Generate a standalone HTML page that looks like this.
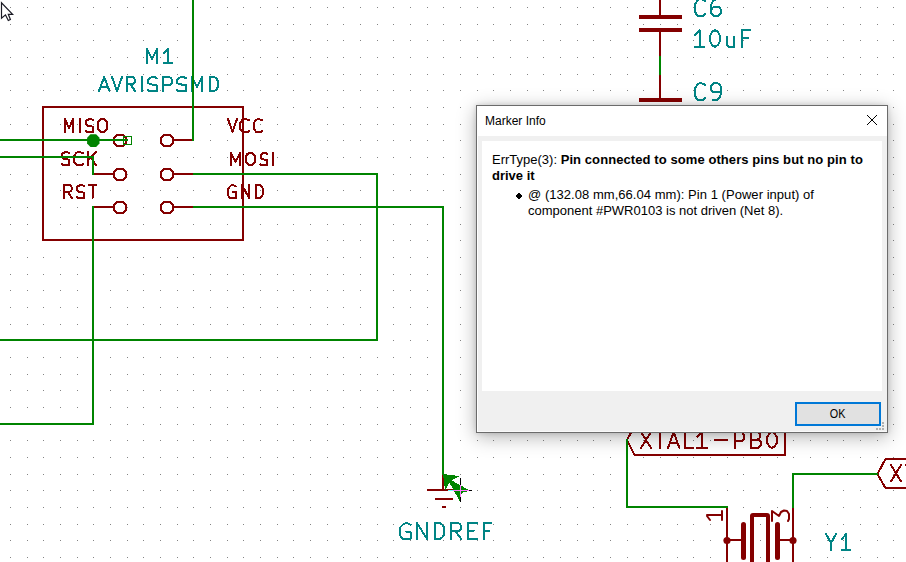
<!DOCTYPE html>
<html><head><meta charset="utf-8"><style>
*{margin:0;padding:0;box-sizing:border-box}
html,body{width:906px;height:562px;overflow:hidden;background:#fff}
body{position:relative;font-family:"Liberation Sans",sans-serif}
#shadow{position:absolute;left:476px;top:105px;width:412px;height:328px;box-shadow:0 0 5px rgba(0,0,0,0.14),0 4px 18px rgba(0,0,0,0.30)}
#dlg{position:absolute;left:476px;top:105px;width:412px;height:328px;border:1px solid #6b6b6b;background:#f0f0f0}
#title{position:absolute;left:477px;top:106px;width:410px;height:30px;background:#fff}
#ttext{position:absolute;left:485px;top:106px;height:30px;line-height:30px;font-size:12px;color:#000;white-space:nowrap}
#close{position:absolute;left:866px;top:114px}
#body{position:absolute;left:477px;top:136px;width:410px;height:296px;border-left:1px solid #fff;border-bottom:1px solid #f9f9f9;background:#f0f0f0}
#panel{position:absolute;left:482px;top:141px;width:400px;height:250px;background:#fff}
.t{position:absolute;font-size:13px;line-height:16px;color:#000;white-space:nowrap}
#ok{position:absolute;left:795px;top:402px;width:86px;height:24px;border:2px solid #0078d7;background:#e1e1e1;font-size:12px;text-align:center;line-height:20px;color:#000}
</style></head>
<body><svg width="906" height="562" viewBox="0 0 906 562" style="position:absolute;left:0;top:0"><path fill="#848484" d="M10 7h1v1h-1zM27 7h1v1h-1zM43 7h1v1h-1zM60 7h1v1h-1zM77 7h1v1h-1zM93 7h1v1h-1zM110 7h1v1h-1zM127 7h1v1h-1zM143 7h1v1h-1zM160 7h1v1h-1zM177 7h1v1h-1zM193 7h1v1h-1zM210 7h1v1h-1zM227 7h1v1h-1zM243 7h1v1h-1zM260 7h1v1h-1zM277 7h1v1h-1zM293 7h1v1h-1zM310 7h1v1h-1zM327 7h1v1h-1zM343 7h1v1h-1zM360 7h1v1h-1zM377 7h1v1h-1zM393 7h1v1h-1zM410 7h1v1h-1zM427 7h1v1h-1zM443 7h1v1h-1zM460 7h1v1h-1zM477 7h1v1h-1zM493 7h1v1h-1zM510 7h1v1h-1zM527 7h1v1h-1zM543 7h1v1h-1zM560 7h1v1h-1zM577 7h1v1h-1zM593 7h1v1h-1zM610 7h1v1h-1zM627 7h1v1h-1zM643 7h1v1h-1zM660 7h1v1h-1zM677 7h1v1h-1zM693 7h1v1h-1zM710 7h1v1h-1zM727 7h1v1h-1zM743 7h1v1h-1zM760 7h1v1h-1zM777 7h1v1h-1zM793 7h1v1h-1zM810 7h1v1h-1zM827 7h1v1h-1zM843 7h1v1h-1zM860 7h1v1h-1zM877 7h1v1h-1zM893 7h1v1h-1zM10 24h1v1h-1zM27 24h1v1h-1zM43 24h1v1h-1zM60 24h1v1h-1zM77 24h1v1h-1zM93 24h1v1h-1zM110 24h1v1h-1zM127 24h1v1h-1zM143 24h1v1h-1zM160 24h1v1h-1zM177 24h1v1h-1zM193 24h1v1h-1zM210 24h1v1h-1zM227 24h1v1h-1zM243 24h1v1h-1zM260 24h1v1h-1zM277 24h1v1h-1zM293 24h1v1h-1zM310 24h1v1h-1zM327 24h1v1h-1zM343 24h1v1h-1zM360 24h1v1h-1zM377 24h1v1h-1zM393 24h1v1h-1zM410 24h1v1h-1zM427 24h1v1h-1zM443 24h1v1h-1zM460 24h1v1h-1zM477 24h1v1h-1zM493 24h1v1h-1zM510 24h1v1h-1zM527 24h1v1h-1zM543 24h1v1h-1zM560 24h1v1h-1zM577 24h1v1h-1zM593 24h1v1h-1zM610 24h1v1h-1zM627 24h1v1h-1zM643 24h1v1h-1zM660 24h1v1h-1zM677 24h1v1h-1zM693 24h1v1h-1zM710 24h1v1h-1zM727 24h1v1h-1zM743 24h1v1h-1zM760 24h1v1h-1zM777 24h1v1h-1zM793 24h1v1h-1zM810 24h1v1h-1zM827 24h1v1h-1zM843 24h1v1h-1zM860 24h1v1h-1zM877 24h1v1h-1zM893 24h1v1h-1zM10 40h1v1h-1zM27 40h1v1h-1zM43 40h1v1h-1zM60 40h1v1h-1zM77 40h1v1h-1zM93 40h1v1h-1zM110 40h1v1h-1zM127 40h1v1h-1zM143 40h1v1h-1zM160 40h1v1h-1zM177 40h1v1h-1zM193 40h1v1h-1zM210 40h1v1h-1zM227 40h1v1h-1zM243 40h1v1h-1zM260 40h1v1h-1zM277 40h1v1h-1zM293 40h1v1h-1zM310 40h1v1h-1zM327 40h1v1h-1zM343 40h1v1h-1zM360 40h1v1h-1zM377 40h1v1h-1zM393 40h1v1h-1zM410 40h1v1h-1zM427 40h1v1h-1zM443 40h1v1h-1zM460 40h1v1h-1zM477 40h1v1h-1zM493 40h1v1h-1zM510 40h1v1h-1zM527 40h1v1h-1zM543 40h1v1h-1zM560 40h1v1h-1zM577 40h1v1h-1zM593 40h1v1h-1zM610 40h1v1h-1zM627 40h1v1h-1zM643 40h1v1h-1zM660 40h1v1h-1zM677 40h1v1h-1zM693 40h1v1h-1zM710 40h1v1h-1zM727 40h1v1h-1zM743 40h1v1h-1zM760 40h1v1h-1zM777 40h1v1h-1zM793 40h1v1h-1zM810 40h1v1h-1zM827 40h1v1h-1zM843 40h1v1h-1zM860 40h1v1h-1zM877 40h1v1h-1zM893 40h1v1h-1zM10 57h1v1h-1zM27 57h1v1h-1zM43 57h1v1h-1zM60 57h1v1h-1zM77 57h1v1h-1zM93 57h1v1h-1zM110 57h1v1h-1zM127 57h1v1h-1zM143 57h1v1h-1zM160 57h1v1h-1zM177 57h1v1h-1zM193 57h1v1h-1zM210 57h1v1h-1zM227 57h1v1h-1zM243 57h1v1h-1zM260 57h1v1h-1zM277 57h1v1h-1zM293 57h1v1h-1zM310 57h1v1h-1zM327 57h1v1h-1zM343 57h1v1h-1zM360 57h1v1h-1zM377 57h1v1h-1zM393 57h1v1h-1zM410 57h1v1h-1zM427 57h1v1h-1zM443 57h1v1h-1zM460 57h1v1h-1zM477 57h1v1h-1zM493 57h1v1h-1zM510 57h1v1h-1zM527 57h1v1h-1zM543 57h1v1h-1zM560 57h1v1h-1zM577 57h1v1h-1zM593 57h1v1h-1zM610 57h1v1h-1zM627 57h1v1h-1zM643 57h1v1h-1zM660 57h1v1h-1zM677 57h1v1h-1zM693 57h1v1h-1zM710 57h1v1h-1zM727 57h1v1h-1zM743 57h1v1h-1zM760 57h1v1h-1zM777 57h1v1h-1zM793 57h1v1h-1zM810 57h1v1h-1zM827 57h1v1h-1zM843 57h1v1h-1zM860 57h1v1h-1zM877 57h1v1h-1zM893 57h1v1h-1zM10 74h1v1h-1zM27 74h1v1h-1zM43 74h1v1h-1zM60 74h1v1h-1zM77 74h1v1h-1zM93 74h1v1h-1zM110 74h1v1h-1zM127 74h1v1h-1zM143 74h1v1h-1zM160 74h1v1h-1zM177 74h1v1h-1zM193 74h1v1h-1zM210 74h1v1h-1zM227 74h1v1h-1zM243 74h1v1h-1zM260 74h1v1h-1zM277 74h1v1h-1zM293 74h1v1h-1zM310 74h1v1h-1zM327 74h1v1h-1zM343 74h1v1h-1zM360 74h1v1h-1zM377 74h1v1h-1zM393 74h1v1h-1zM410 74h1v1h-1zM427 74h1v1h-1zM443 74h1v1h-1zM460 74h1v1h-1zM477 74h1v1h-1zM493 74h1v1h-1zM510 74h1v1h-1zM527 74h1v1h-1zM543 74h1v1h-1zM560 74h1v1h-1zM577 74h1v1h-1zM593 74h1v1h-1zM610 74h1v1h-1zM627 74h1v1h-1zM643 74h1v1h-1zM660 74h1v1h-1zM677 74h1v1h-1zM693 74h1v1h-1zM710 74h1v1h-1zM727 74h1v1h-1zM743 74h1v1h-1zM760 74h1v1h-1zM777 74h1v1h-1zM793 74h1v1h-1zM810 74h1v1h-1zM827 74h1v1h-1zM843 74h1v1h-1zM860 74h1v1h-1zM877 74h1v1h-1zM893 74h1v1h-1zM10 90h1v1h-1zM27 90h1v1h-1zM43 90h1v1h-1zM60 90h1v1h-1zM77 90h1v1h-1zM93 90h1v1h-1zM110 90h1v1h-1zM127 90h1v1h-1zM143 90h1v1h-1zM160 90h1v1h-1zM177 90h1v1h-1zM193 90h1v1h-1zM210 90h1v1h-1zM227 90h1v1h-1zM243 90h1v1h-1zM260 90h1v1h-1zM277 90h1v1h-1zM293 90h1v1h-1zM310 90h1v1h-1zM327 90h1v1h-1zM343 90h1v1h-1zM360 90h1v1h-1zM377 90h1v1h-1zM393 90h1v1h-1zM410 90h1v1h-1zM427 90h1v1h-1zM443 90h1v1h-1zM460 90h1v1h-1zM477 90h1v1h-1zM493 90h1v1h-1zM510 90h1v1h-1zM527 90h1v1h-1zM543 90h1v1h-1zM560 90h1v1h-1zM577 90h1v1h-1zM593 90h1v1h-1zM610 90h1v1h-1zM627 90h1v1h-1zM643 90h1v1h-1zM660 90h1v1h-1zM677 90h1v1h-1zM693 90h1v1h-1zM710 90h1v1h-1zM727 90h1v1h-1zM743 90h1v1h-1zM760 90h1v1h-1zM777 90h1v1h-1zM793 90h1v1h-1zM810 90h1v1h-1zM827 90h1v1h-1zM843 90h1v1h-1zM860 90h1v1h-1zM877 90h1v1h-1zM893 90h1v1h-1zM10 107h1v1h-1zM27 107h1v1h-1zM43 107h1v1h-1zM60 107h1v1h-1zM77 107h1v1h-1zM93 107h1v1h-1zM110 107h1v1h-1zM127 107h1v1h-1zM143 107h1v1h-1zM160 107h1v1h-1zM177 107h1v1h-1zM193 107h1v1h-1zM210 107h1v1h-1zM227 107h1v1h-1zM243 107h1v1h-1zM260 107h1v1h-1zM277 107h1v1h-1zM293 107h1v1h-1zM310 107h1v1h-1zM327 107h1v1h-1zM343 107h1v1h-1zM360 107h1v1h-1zM377 107h1v1h-1zM393 107h1v1h-1zM410 107h1v1h-1zM427 107h1v1h-1zM443 107h1v1h-1zM460 107h1v1h-1zM477 107h1v1h-1zM493 107h1v1h-1zM510 107h1v1h-1zM527 107h1v1h-1zM543 107h1v1h-1zM560 107h1v1h-1zM577 107h1v1h-1zM593 107h1v1h-1zM610 107h1v1h-1zM627 107h1v1h-1zM643 107h1v1h-1zM660 107h1v1h-1zM677 107h1v1h-1zM693 107h1v1h-1zM710 107h1v1h-1zM727 107h1v1h-1zM743 107h1v1h-1zM760 107h1v1h-1zM777 107h1v1h-1zM793 107h1v1h-1zM810 107h1v1h-1zM827 107h1v1h-1zM843 107h1v1h-1zM860 107h1v1h-1zM877 107h1v1h-1zM893 107h1v1h-1zM10 124h1v1h-1zM27 124h1v1h-1zM43 124h1v1h-1zM60 124h1v1h-1zM77 124h1v1h-1zM93 124h1v1h-1zM110 124h1v1h-1zM127 124h1v1h-1zM143 124h1v1h-1zM160 124h1v1h-1zM177 124h1v1h-1zM193 124h1v1h-1zM210 124h1v1h-1zM227 124h1v1h-1zM243 124h1v1h-1zM260 124h1v1h-1zM277 124h1v1h-1zM293 124h1v1h-1zM310 124h1v1h-1zM327 124h1v1h-1zM343 124h1v1h-1zM360 124h1v1h-1zM377 124h1v1h-1zM393 124h1v1h-1zM410 124h1v1h-1zM427 124h1v1h-1zM443 124h1v1h-1zM460 124h1v1h-1zM477 124h1v1h-1zM493 124h1v1h-1zM510 124h1v1h-1zM527 124h1v1h-1zM543 124h1v1h-1zM560 124h1v1h-1zM577 124h1v1h-1zM593 124h1v1h-1zM610 124h1v1h-1zM627 124h1v1h-1zM643 124h1v1h-1zM660 124h1v1h-1zM677 124h1v1h-1zM693 124h1v1h-1zM710 124h1v1h-1zM727 124h1v1h-1zM743 124h1v1h-1zM760 124h1v1h-1zM777 124h1v1h-1zM793 124h1v1h-1zM810 124h1v1h-1zM827 124h1v1h-1zM843 124h1v1h-1zM860 124h1v1h-1zM877 124h1v1h-1zM893 124h1v1h-1zM10 140h1v1h-1zM27 140h1v1h-1zM43 140h1v1h-1zM60 140h1v1h-1zM77 140h1v1h-1zM93 140h1v1h-1zM110 140h1v1h-1zM127 140h1v1h-1zM143 140h1v1h-1zM160 140h1v1h-1zM177 140h1v1h-1zM193 140h1v1h-1zM210 140h1v1h-1zM227 140h1v1h-1zM243 140h1v1h-1zM260 140h1v1h-1zM277 140h1v1h-1zM293 140h1v1h-1zM310 140h1v1h-1zM327 140h1v1h-1zM343 140h1v1h-1zM360 140h1v1h-1zM377 140h1v1h-1zM393 140h1v1h-1zM410 140h1v1h-1zM427 140h1v1h-1zM443 140h1v1h-1zM460 140h1v1h-1zM477 140h1v1h-1zM493 140h1v1h-1zM510 140h1v1h-1zM527 140h1v1h-1zM543 140h1v1h-1zM560 140h1v1h-1zM577 140h1v1h-1zM593 140h1v1h-1zM610 140h1v1h-1zM627 140h1v1h-1zM643 140h1v1h-1zM660 140h1v1h-1zM677 140h1v1h-1zM693 140h1v1h-1zM710 140h1v1h-1zM727 140h1v1h-1zM743 140h1v1h-1zM760 140h1v1h-1zM777 140h1v1h-1zM793 140h1v1h-1zM810 140h1v1h-1zM827 140h1v1h-1zM843 140h1v1h-1zM860 140h1v1h-1zM877 140h1v1h-1zM893 140h1v1h-1zM10 157h1v1h-1zM27 157h1v1h-1zM43 157h1v1h-1zM60 157h1v1h-1zM77 157h1v1h-1zM93 157h1v1h-1zM110 157h1v1h-1zM127 157h1v1h-1zM143 157h1v1h-1zM160 157h1v1h-1zM177 157h1v1h-1zM193 157h1v1h-1zM210 157h1v1h-1zM227 157h1v1h-1zM243 157h1v1h-1zM260 157h1v1h-1zM277 157h1v1h-1zM293 157h1v1h-1zM310 157h1v1h-1zM327 157h1v1h-1zM343 157h1v1h-1zM360 157h1v1h-1zM377 157h1v1h-1zM393 157h1v1h-1zM410 157h1v1h-1zM427 157h1v1h-1zM443 157h1v1h-1zM460 157h1v1h-1zM477 157h1v1h-1zM493 157h1v1h-1zM510 157h1v1h-1zM527 157h1v1h-1zM543 157h1v1h-1zM560 157h1v1h-1zM577 157h1v1h-1zM593 157h1v1h-1zM610 157h1v1h-1zM627 157h1v1h-1zM643 157h1v1h-1zM660 157h1v1h-1zM677 157h1v1h-1zM693 157h1v1h-1zM710 157h1v1h-1zM727 157h1v1h-1zM743 157h1v1h-1zM760 157h1v1h-1zM777 157h1v1h-1zM793 157h1v1h-1zM810 157h1v1h-1zM827 157h1v1h-1zM843 157h1v1h-1zM860 157h1v1h-1zM877 157h1v1h-1zM893 157h1v1h-1zM10 174h1v1h-1zM27 174h1v1h-1zM43 174h1v1h-1zM60 174h1v1h-1zM77 174h1v1h-1zM93 174h1v1h-1zM110 174h1v1h-1zM127 174h1v1h-1zM143 174h1v1h-1zM160 174h1v1h-1zM177 174h1v1h-1zM193 174h1v1h-1zM210 174h1v1h-1zM227 174h1v1h-1zM243 174h1v1h-1zM260 174h1v1h-1zM277 174h1v1h-1zM293 174h1v1h-1zM310 174h1v1h-1zM327 174h1v1h-1zM343 174h1v1h-1zM360 174h1v1h-1zM377 174h1v1h-1zM393 174h1v1h-1zM410 174h1v1h-1zM427 174h1v1h-1zM443 174h1v1h-1zM460 174h1v1h-1zM477 174h1v1h-1zM493 174h1v1h-1zM510 174h1v1h-1zM527 174h1v1h-1zM543 174h1v1h-1zM560 174h1v1h-1zM577 174h1v1h-1zM593 174h1v1h-1zM610 174h1v1h-1zM627 174h1v1h-1zM643 174h1v1h-1zM660 174h1v1h-1zM677 174h1v1h-1zM693 174h1v1h-1zM710 174h1v1h-1zM727 174h1v1h-1zM743 174h1v1h-1zM760 174h1v1h-1zM777 174h1v1h-1zM793 174h1v1h-1zM810 174h1v1h-1zM827 174h1v1h-1zM843 174h1v1h-1zM860 174h1v1h-1zM877 174h1v1h-1zM893 174h1v1h-1zM10 190h1v1h-1zM27 190h1v1h-1zM43 190h1v1h-1zM60 190h1v1h-1zM77 190h1v1h-1zM93 190h1v1h-1zM110 190h1v1h-1zM127 190h1v1h-1zM143 190h1v1h-1zM160 190h1v1h-1zM177 190h1v1h-1zM193 190h1v1h-1zM210 190h1v1h-1zM227 190h1v1h-1zM243 190h1v1h-1zM260 190h1v1h-1zM277 190h1v1h-1zM293 190h1v1h-1zM310 190h1v1h-1zM327 190h1v1h-1zM343 190h1v1h-1zM360 190h1v1h-1zM377 190h1v1h-1zM393 190h1v1h-1zM410 190h1v1h-1zM427 190h1v1h-1zM443 190h1v1h-1zM460 190h1v1h-1zM477 190h1v1h-1zM493 190h1v1h-1zM510 190h1v1h-1zM527 190h1v1h-1zM543 190h1v1h-1zM560 190h1v1h-1zM577 190h1v1h-1zM593 190h1v1h-1zM610 190h1v1h-1zM627 190h1v1h-1zM643 190h1v1h-1zM660 190h1v1h-1zM677 190h1v1h-1zM693 190h1v1h-1zM710 190h1v1h-1zM727 190h1v1h-1zM743 190h1v1h-1zM760 190h1v1h-1zM777 190h1v1h-1zM793 190h1v1h-1zM810 190h1v1h-1zM827 190h1v1h-1zM843 190h1v1h-1zM860 190h1v1h-1zM877 190h1v1h-1zM893 190h1v1h-1zM10 207h1v1h-1zM27 207h1v1h-1zM43 207h1v1h-1zM60 207h1v1h-1zM77 207h1v1h-1zM93 207h1v1h-1zM110 207h1v1h-1zM127 207h1v1h-1zM143 207h1v1h-1zM160 207h1v1h-1zM177 207h1v1h-1zM193 207h1v1h-1zM210 207h1v1h-1zM227 207h1v1h-1zM243 207h1v1h-1zM260 207h1v1h-1zM277 207h1v1h-1zM293 207h1v1h-1zM310 207h1v1h-1zM327 207h1v1h-1zM343 207h1v1h-1zM360 207h1v1h-1zM377 207h1v1h-1zM393 207h1v1h-1zM410 207h1v1h-1zM427 207h1v1h-1zM443 207h1v1h-1zM460 207h1v1h-1zM477 207h1v1h-1zM493 207h1v1h-1zM510 207h1v1h-1zM527 207h1v1h-1zM543 207h1v1h-1zM560 207h1v1h-1zM577 207h1v1h-1zM593 207h1v1h-1zM610 207h1v1h-1zM627 207h1v1h-1zM643 207h1v1h-1zM660 207h1v1h-1zM677 207h1v1h-1zM693 207h1v1h-1zM710 207h1v1h-1zM727 207h1v1h-1zM743 207h1v1h-1zM760 207h1v1h-1zM777 207h1v1h-1zM793 207h1v1h-1zM810 207h1v1h-1zM827 207h1v1h-1zM843 207h1v1h-1zM860 207h1v1h-1zM877 207h1v1h-1zM893 207h1v1h-1zM10 224h1v1h-1zM27 224h1v1h-1zM43 224h1v1h-1zM60 224h1v1h-1zM77 224h1v1h-1zM93 224h1v1h-1zM110 224h1v1h-1zM127 224h1v1h-1zM143 224h1v1h-1zM160 224h1v1h-1zM177 224h1v1h-1zM193 224h1v1h-1zM210 224h1v1h-1zM227 224h1v1h-1zM243 224h1v1h-1zM260 224h1v1h-1zM277 224h1v1h-1zM293 224h1v1h-1zM310 224h1v1h-1zM327 224h1v1h-1zM343 224h1v1h-1zM360 224h1v1h-1zM377 224h1v1h-1zM393 224h1v1h-1zM410 224h1v1h-1zM427 224h1v1h-1zM443 224h1v1h-1zM460 224h1v1h-1zM477 224h1v1h-1zM493 224h1v1h-1zM510 224h1v1h-1zM527 224h1v1h-1zM543 224h1v1h-1zM560 224h1v1h-1zM577 224h1v1h-1zM593 224h1v1h-1zM610 224h1v1h-1zM627 224h1v1h-1zM643 224h1v1h-1zM660 224h1v1h-1zM677 224h1v1h-1zM693 224h1v1h-1zM710 224h1v1h-1zM727 224h1v1h-1zM743 224h1v1h-1zM760 224h1v1h-1zM777 224h1v1h-1zM793 224h1v1h-1zM810 224h1v1h-1zM827 224h1v1h-1zM843 224h1v1h-1zM860 224h1v1h-1zM877 224h1v1h-1zM893 224h1v1h-1zM10 240h1v1h-1zM27 240h1v1h-1zM43 240h1v1h-1zM60 240h1v1h-1zM77 240h1v1h-1zM93 240h1v1h-1zM110 240h1v1h-1zM127 240h1v1h-1zM143 240h1v1h-1zM160 240h1v1h-1zM177 240h1v1h-1zM193 240h1v1h-1zM210 240h1v1h-1zM227 240h1v1h-1zM243 240h1v1h-1zM260 240h1v1h-1zM277 240h1v1h-1zM293 240h1v1h-1zM310 240h1v1h-1zM327 240h1v1h-1zM343 240h1v1h-1zM360 240h1v1h-1zM377 240h1v1h-1zM393 240h1v1h-1zM410 240h1v1h-1zM427 240h1v1h-1zM443 240h1v1h-1zM460 240h1v1h-1zM477 240h1v1h-1zM493 240h1v1h-1zM510 240h1v1h-1zM527 240h1v1h-1zM543 240h1v1h-1zM560 240h1v1h-1zM577 240h1v1h-1zM593 240h1v1h-1zM610 240h1v1h-1zM627 240h1v1h-1zM643 240h1v1h-1zM660 240h1v1h-1zM677 240h1v1h-1zM693 240h1v1h-1zM710 240h1v1h-1zM727 240h1v1h-1zM743 240h1v1h-1zM760 240h1v1h-1zM777 240h1v1h-1zM793 240h1v1h-1zM810 240h1v1h-1zM827 240h1v1h-1zM843 240h1v1h-1zM860 240h1v1h-1zM877 240h1v1h-1zM893 240h1v1h-1zM10 257h1v1h-1zM27 257h1v1h-1zM43 257h1v1h-1zM60 257h1v1h-1zM77 257h1v1h-1zM93 257h1v1h-1zM110 257h1v1h-1zM127 257h1v1h-1zM143 257h1v1h-1zM160 257h1v1h-1zM177 257h1v1h-1zM193 257h1v1h-1zM210 257h1v1h-1zM227 257h1v1h-1zM243 257h1v1h-1zM260 257h1v1h-1zM277 257h1v1h-1zM293 257h1v1h-1zM310 257h1v1h-1zM327 257h1v1h-1zM343 257h1v1h-1zM360 257h1v1h-1zM377 257h1v1h-1zM393 257h1v1h-1zM410 257h1v1h-1zM427 257h1v1h-1zM443 257h1v1h-1zM460 257h1v1h-1zM477 257h1v1h-1zM493 257h1v1h-1zM510 257h1v1h-1zM527 257h1v1h-1zM543 257h1v1h-1zM560 257h1v1h-1zM577 257h1v1h-1zM593 257h1v1h-1zM610 257h1v1h-1zM627 257h1v1h-1zM643 257h1v1h-1zM660 257h1v1h-1zM677 257h1v1h-1zM693 257h1v1h-1zM710 257h1v1h-1zM727 257h1v1h-1zM743 257h1v1h-1zM760 257h1v1h-1zM777 257h1v1h-1zM793 257h1v1h-1zM810 257h1v1h-1zM827 257h1v1h-1zM843 257h1v1h-1zM860 257h1v1h-1zM877 257h1v1h-1zM893 257h1v1h-1zM10 274h1v1h-1zM27 274h1v1h-1zM43 274h1v1h-1zM60 274h1v1h-1zM77 274h1v1h-1zM93 274h1v1h-1zM110 274h1v1h-1zM127 274h1v1h-1zM143 274h1v1h-1zM160 274h1v1h-1zM177 274h1v1h-1zM193 274h1v1h-1zM210 274h1v1h-1zM227 274h1v1h-1zM243 274h1v1h-1zM260 274h1v1h-1zM277 274h1v1h-1zM293 274h1v1h-1zM310 274h1v1h-1zM327 274h1v1h-1zM343 274h1v1h-1zM360 274h1v1h-1zM377 274h1v1h-1zM393 274h1v1h-1zM410 274h1v1h-1zM427 274h1v1h-1zM443 274h1v1h-1zM460 274h1v1h-1zM477 274h1v1h-1zM493 274h1v1h-1zM510 274h1v1h-1zM527 274h1v1h-1zM543 274h1v1h-1zM560 274h1v1h-1zM577 274h1v1h-1zM593 274h1v1h-1zM610 274h1v1h-1zM627 274h1v1h-1zM643 274h1v1h-1zM660 274h1v1h-1zM677 274h1v1h-1zM693 274h1v1h-1zM710 274h1v1h-1zM727 274h1v1h-1zM743 274h1v1h-1zM760 274h1v1h-1zM777 274h1v1h-1zM793 274h1v1h-1zM810 274h1v1h-1zM827 274h1v1h-1zM843 274h1v1h-1zM860 274h1v1h-1zM877 274h1v1h-1zM893 274h1v1h-1zM10 290h1v1h-1zM27 290h1v1h-1zM43 290h1v1h-1zM60 290h1v1h-1zM77 290h1v1h-1zM93 290h1v1h-1zM110 290h1v1h-1zM127 290h1v1h-1zM143 290h1v1h-1zM160 290h1v1h-1zM177 290h1v1h-1zM193 290h1v1h-1zM210 290h1v1h-1zM227 290h1v1h-1zM243 290h1v1h-1zM260 290h1v1h-1zM277 290h1v1h-1zM293 290h1v1h-1zM310 290h1v1h-1zM327 290h1v1h-1zM343 290h1v1h-1zM360 290h1v1h-1zM377 290h1v1h-1zM393 290h1v1h-1zM410 290h1v1h-1zM427 290h1v1h-1zM443 290h1v1h-1zM460 290h1v1h-1zM477 290h1v1h-1zM493 290h1v1h-1zM510 290h1v1h-1zM527 290h1v1h-1zM543 290h1v1h-1zM560 290h1v1h-1zM577 290h1v1h-1zM593 290h1v1h-1zM610 290h1v1h-1zM627 290h1v1h-1zM643 290h1v1h-1zM660 290h1v1h-1zM677 290h1v1h-1zM693 290h1v1h-1zM710 290h1v1h-1zM727 290h1v1h-1zM743 290h1v1h-1zM760 290h1v1h-1zM777 290h1v1h-1zM793 290h1v1h-1zM810 290h1v1h-1zM827 290h1v1h-1zM843 290h1v1h-1zM860 290h1v1h-1zM877 290h1v1h-1zM893 290h1v1h-1zM10 307h1v1h-1zM27 307h1v1h-1zM43 307h1v1h-1zM60 307h1v1h-1zM77 307h1v1h-1zM93 307h1v1h-1zM110 307h1v1h-1zM127 307h1v1h-1zM143 307h1v1h-1zM160 307h1v1h-1zM177 307h1v1h-1zM193 307h1v1h-1zM210 307h1v1h-1zM227 307h1v1h-1zM243 307h1v1h-1zM260 307h1v1h-1zM277 307h1v1h-1zM293 307h1v1h-1zM310 307h1v1h-1zM327 307h1v1h-1zM343 307h1v1h-1zM360 307h1v1h-1zM377 307h1v1h-1zM393 307h1v1h-1zM410 307h1v1h-1zM427 307h1v1h-1zM443 307h1v1h-1zM460 307h1v1h-1zM477 307h1v1h-1zM493 307h1v1h-1zM510 307h1v1h-1zM527 307h1v1h-1zM543 307h1v1h-1zM560 307h1v1h-1zM577 307h1v1h-1zM593 307h1v1h-1zM610 307h1v1h-1zM627 307h1v1h-1zM643 307h1v1h-1zM660 307h1v1h-1zM677 307h1v1h-1zM693 307h1v1h-1zM710 307h1v1h-1zM727 307h1v1h-1zM743 307h1v1h-1zM760 307h1v1h-1zM777 307h1v1h-1zM793 307h1v1h-1zM810 307h1v1h-1zM827 307h1v1h-1zM843 307h1v1h-1zM860 307h1v1h-1zM877 307h1v1h-1zM893 307h1v1h-1zM10 324h1v1h-1zM27 324h1v1h-1zM43 324h1v1h-1zM60 324h1v1h-1zM77 324h1v1h-1zM93 324h1v1h-1zM110 324h1v1h-1zM127 324h1v1h-1zM143 324h1v1h-1zM160 324h1v1h-1zM177 324h1v1h-1zM193 324h1v1h-1zM210 324h1v1h-1zM227 324h1v1h-1zM243 324h1v1h-1zM260 324h1v1h-1zM277 324h1v1h-1zM293 324h1v1h-1zM310 324h1v1h-1zM327 324h1v1h-1zM343 324h1v1h-1zM360 324h1v1h-1zM377 324h1v1h-1zM393 324h1v1h-1zM410 324h1v1h-1zM427 324h1v1h-1zM443 324h1v1h-1zM460 324h1v1h-1zM477 324h1v1h-1zM493 324h1v1h-1zM510 324h1v1h-1zM527 324h1v1h-1zM543 324h1v1h-1zM560 324h1v1h-1zM577 324h1v1h-1zM593 324h1v1h-1zM610 324h1v1h-1zM627 324h1v1h-1zM643 324h1v1h-1zM660 324h1v1h-1zM677 324h1v1h-1zM693 324h1v1h-1zM710 324h1v1h-1zM727 324h1v1h-1zM743 324h1v1h-1zM760 324h1v1h-1zM777 324h1v1h-1zM793 324h1v1h-1zM810 324h1v1h-1zM827 324h1v1h-1zM843 324h1v1h-1zM860 324h1v1h-1zM877 324h1v1h-1zM893 324h1v1h-1zM10 340h1v1h-1zM27 340h1v1h-1zM43 340h1v1h-1zM60 340h1v1h-1zM77 340h1v1h-1zM93 340h1v1h-1zM110 340h1v1h-1zM127 340h1v1h-1zM143 340h1v1h-1zM160 340h1v1h-1zM177 340h1v1h-1zM193 340h1v1h-1zM210 340h1v1h-1zM227 340h1v1h-1zM243 340h1v1h-1zM260 340h1v1h-1zM277 340h1v1h-1zM293 340h1v1h-1zM310 340h1v1h-1zM327 340h1v1h-1zM343 340h1v1h-1zM360 340h1v1h-1zM377 340h1v1h-1zM393 340h1v1h-1zM410 340h1v1h-1zM427 340h1v1h-1zM443 340h1v1h-1zM460 340h1v1h-1zM477 340h1v1h-1zM493 340h1v1h-1zM510 340h1v1h-1zM527 340h1v1h-1zM543 340h1v1h-1zM560 340h1v1h-1zM577 340h1v1h-1zM593 340h1v1h-1zM610 340h1v1h-1zM627 340h1v1h-1zM643 340h1v1h-1zM660 340h1v1h-1zM677 340h1v1h-1zM693 340h1v1h-1zM710 340h1v1h-1zM727 340h1v1h-1zM743 340h1v1h-1zM760 340h1v1h-1zM777 340h1v1h-1zM793 340h1v1h-1zM810 340h1v1h-1zM827 340h1v1h-1zM843 340h1v1h-1zM860 340h1v1h-1zM877 340h1v1h-1zM893 340h1v1h-1zM10 357h1v1h-1zM27 357h1v1h-1zM43 357h1v1h-1zM60 357h1v1h-1zM77 357h1v1h-1zM93 357h1v1h-1zM110 357h1v1h-1zM127 357h1v1h-1zM143 357h1v1h-1zM160 357h1v1h-1zM177 357h1v1h-1zM193 357h1v1h-1zM210 357h1v1h-1zM227 357h1v1h-1zM243 357h1v1h-1zM260 357h1v1h-1zM277 357h1v1h-1zM293 357h1v1h-1zM310 357h1v1h-1zM327 357h1v1h-1zM343 357h1v1h-1zM360 357h1v1h-1zM377 357h1v1h-1zM393 357h1v1h-1zM410 357h1v1h-1zM427 357h1v1h-1zM443 357h1v1h-1zM460 357h1v1h-1zM477 357h1v1h-1zM493 357h1v1h-1zM510 357h1v1h-1zM527 357h1v1h-1zM543 357h1v1h-1zM560 357h1v1h-1zM577 357h1v1h-1zM593 357h1v1h-1zM610 357h1v1h-1zM627 357h1v1h-1zM643 357h1v1h-1zM660 357h1v1h-1zM677 357h1v1h-1zM693 357h1v1h-1zM710 357h1v1h-1zM727 357h1v1h-1zM743 357h1v1h-1zM760 357h1v1h-1zM777 357h1v1h-1zM793 357h1v1h-1zM810 357h1v1h-1zM827 357h1v1h-1zM843 357h1v1h-1zM860 357h1v1h-1zM877 357h1v1h-1zM893 357h1v1h-1zM10 374h1v1h-1zM27 374h1v1h-1zM43 374h1v1h-1zM60 374h1v1h-1zM77 374h1v1h-1zM93 374h1v1h-1zM110 374h1v1h-1zM127 374h1v1h-1zM143 374h1v1h-1zM160 374h1v1h-1zM177 374h1v1h-1zM193 374h1v1h-1zM210 374h1v1h-1zM227 374h1v1h-1zM243 374h1v1h-1zM260 374h1v1h-1zM277 374h1v1h-1zM293 374h1v1h-1zM310 374h1v1h-1zM327 374h1v1h-1zM343 374h1v1h-1zM360 374h1v1h-1zM377 374h1v1h-1zM393 374h1v1h-1zM410 374h1v1h-1zM427 374h1v1h-1zM443 374h1v1h-1zM460 374h1v1h-1zM477 374h1v1h-1zM493 374h1v1h-1zM510 374h1v1h-1zM527 374h1v1h-1zM543 374h1v1h-1zM560 374h1v1h-1zM577 374h1v1h-1zM593 374h1v1h-1zM610 374h1v1h-1zM627 374h1v1h-1zM643 374h1v1h-1zM660 374h1v1h-1zM677 374h1v1h-1zM693 374h1v1h-1zM710 374h1v1h-1zM727 374h1v1h-1zM743 374h1v1h-1zM760 374h1v1h-1zM777 374h1v1h-1zM793 374h1v1h-1zM810 374h1v1h-1zM827 374h1v1h-1zM843 374h1v1h-1zM860 374h1v1h-1zM877 374h1v1h-1zM893 374h1v1h-1zM10 390h1v1h-1zM27 390h1v1h-1zM43 390h1v1h-1zM60 390h1v1h-1zM77 390h1v1h-1zM93 390h1v1h-1zM110 390h1v1h-1zM127 390h1v1h-1zM143 390h1v1h-1zM160 390h1v1h-1zM177 390h1v1h-1zM193 390h1v1h-1zM210 390h1v1h-1zM227 390h1v1h-1zM243 390h1v1h-1zM260 390h1v1h-1zM277 390h1v1h-1zM293 390h1v1h-1zM310 390h1v1h-1zM327 390h1v1h-1zM343 390h1v1h-1zM360 390h1v1h-1zM377 390h1v1h-1zM393 390h1v1h-1zM410 390h1v1h-1zM427 390h1v1h-1zM443 390h1v1h-1zM460 390h1v1h-1zM477 390h1v1h-1zM493 390h1v1h-1zM510 390h1v1h-1zM527 390h1v1h-1zM543 390h1v1h-1zM560 390h1v1h-1zM577 390h1v1h-1zM593 390h1v1h-1zM610 390h1v1h-1zM627 390h1v1h-1zM643 390h1v1h-1zM660 390h1v1h-1zM677 390h1v1h-1zM693 390h1v1h-1zM710 390h1v1h-1zM727 390h1v1h-1zM743 390h1v1h-1zM760 390h1v1h-1zM777 390h1v1h-1zM793 390h1v1h-1zM810 390h1v1h-1zM827 390h1v1h-1zM843 390h1v1h-1zM860 390h1v1h-1zM877 390h1v1h-1zM893 390h1v1h-1zM10 407h1v1h-1zM27 407h1v1h-1zM43 407h1v1h-1zM60 407h1v1h-1zM77 407h1v1h-1zM93 407h1v1h-1zM110 407h1v1h-1zM127 407h1v1h-1zM143 407h1v1h-1zM160 407h1v1h-1zM177 407h1v1h-1zM193 407h1v1h-1zM210 407h1v1h-1zM227 407h1v1h-1zM243 407h1v1h-1zM260 407h1v1h-1zM277 407h1v1h-1zM293 407h1v1h-1zM310 407h1v1h-1zM327 407h1v1h-1zM343 407h1v1h-1zM360 407h1v1h-1zM377 407h1v1h-1zM393 407h1v1h-1zM410 407h1v1h-1zM427 407h1v1h-1zM443 407h1v1h-1zM460 407h1v1h-1zM477 407h1v1h-1zM493 407h1v1h-1zM510 407h1v1h-1zM527 407h1v1h-1zM543 407h1v1h-1zM560 407h1v1h-1zM577 407h1v1h-1zM593 407h1v1h-1zM610 407h1v1h-1zM627 407h1v1h-1zM643 407h1v1h-1zM660 407h1v1h-1zM677 407h1v1h-1zM693 407h1v1h-1zM710 407h1v1h-1zM727 407h1v1h-1zM743 407h1v1h-1zM760 407h1v1h-1zM777 407h1v1h-1zM793 407h1v1h-1zM810 407h1v1h-1zM827 407h1v1h-1zM843 407h1v1h-1zM860 407h1v1h-1zM877 407h1v1h-1zM893 407h1v1h-1zM10 424h1v1h-1zM27 424h1v1h-1zM43 424h1v1h-1zM60 424h1v1h-1zM77 424h1v1h-1zM93 424h1v1h-1zM110 424h1v1h-1zM127 424h1v1h-1zM143 424h1v1h-1zM160 424h1v1h-1zM177 424h1v1h-1zM193 424h1v1h-1zM210 424h1v1h-1zM227 424h1v1h-1zM243 424h1v1h-1zM260 424h1v1h-1zM277 424h1v1h-1zM293 424h1v1h-1zM310 424h1v1h-1zM327 424h1v1h-1zM343 424h1v1h-1zM360 424h1v1h-1zM377 424h1v1h-1zM393 424h1v1h-1zM410 424h1v1h-1zM427 424h1v1h-1zM443 424h1v1h-1zM460 424h1v1h-1zM477 424h1v1h-1zM493 424h1v1h-1zM510 424h1v1h-1zM527 424h1v1h-1zM543 424h1v1h-1zM560 424h1v1h-1zM577 424h1v1h-1zM593 424h1v1h-1zM610 424h1v1h-1zM627 424h1v1h-1zM643 424h1v1h-1zM660 424h1v1h-1zM677 424h1v1h-1zM693 424h1v1h-1zM710 424h1v1h-1zM727 424h1v1h-1zM743 424h1v1h-1zM760 424h1v1h-1zM777 424h1v1h-1zM793 424h1v1h-1zM810 424h1v1h-1zM827 424h1v1h-1zM843 424h1v1h-1zM860 424h1v1h-1zM877 424h1v1h-1zM893 424h1v1h-1zM10 440h1v1h-1zM27 440h1v1h-1zM43 440h1v1h-1zM60 440h1v1h-1zM77 440h1v1h-1zM93 440h1v1h-1zM110 440h1v1h-1zM127 440h1v1h-1zM143 440h1v1h-1zM160 440h1v1h-1zM177 440h1v1h-1zM193 440h1v1h-1zM210 440h1v1h-1zM227 440h1v1h-1zM243 440h1v1h-1zM260 440h1v1h-1zM277 440h1v1h-1zM293 440h1v1h-1zM310 440h1v1h-1zM327 440h1v1h-1zM343 440h1v1h-1zM360 440h1v1h-1zM377 440h1v1h-1zM393 440h1v1h-1zM410 440h1v1h-1zM427 440h1v1h-1zM443 440h1v1h-1zM460 440h1v1h-1zM477 440h1v1h-1zM493 440h1v1h-1zM510 440h1v1h-1zM527 440h1v1h-1zM543 440h1v1h-1zM560 440h1v1h-1zM577 440h1v1h-1zM593 440h1v1h-1zM610 440h1v1h-1zM627 440h1v1h-1zM643 440h1v1h-1zM660 440h1v1h-1zM677 440h1v1h-1zM693 440h1v1h-1zM710 440h1v1h-1zM727 440h1v1h-1zM743 440h1v1h-1zM760 440h1v1h-1zM777 440h1v1h-1zM793 440h1v1h-1zM810 440h1v1h-1zM827 440h1v1h-1zM843 440h1v1h-1zM860 440h1v1h-1zM877 440h1v1h-1zM893 440h1v1h-1zM10 457h1v1h-1zM27 457h1v1h-1zM43 457h1v1h-1zM60 457h1v1h-1zM77 457h1v1h-1zM93 457h1v1h-1zM110 457h1v1h-1zM127 457h1v1h-1zM143 457h1v1h-1zM160 457h1v1h-1zM177 457h1v1h-1zM193 457h1v1h-1zM210 457h1v1h-1zM227 457h1v1h-1zM243 457h1v1h-1zM260 457h1v1h-1zM277 457h1v1h-1zM293 457h1v1h-1zM310 457h1v1h-1zM327 457h1v1h-1zM343 457h1v1h-1zM360 457h1v1h-1zM377 457h1v1h-1zM393 457h1v1h-1zM410 457h1v1h-1zM427 457h1v1h-1zM443 457h1v1h-1zM460 457h1v1h-1zM477 457h1v1h-1zM493 457h1v1h-1zM510 457h1v1h-1zM527 457h1v1h-1zM543 457h1v1h-1zM560 457h1v1h-1zM577 457h1v1h-1zM593 457h1v1h-1zM610 457h1v1h-1zM627 457h1v1h-1zM643 457h1v1h-1zM660 457h1v1h-1zM677 457h1v1h-1zM693 457h1v1h-1zM710 457h1v1h-1zM727 457h1v1h-1zM743 457h1v1h-1zM760 457h1v1h-1zM777 457h1v1h-1zM793 457h1v1h-1zM810 457h1v1h-1zM827 457h1v1h-1zM843 457h1v1h-1zM860 457h1v1h-1zM877 457h1v1h-1zM893 457h1v1h-1zM10 474h1v1h-1zM27 474h1v1h-1zM43 474h1v1h-1zM60 474h1v1h-1zM77 474h1v1h-1zM93 474h1v1h-1zM110 474h1v1h-1zM127 474h1v1h-1zM143 474h1v1h-1zM160 474h1v1h-1zM177 474h1v1h-1zM193 474h1v1h-1zM210 474h1v1h-1zM227 474h1v1h-1zM243 474h1v1h-1zM260 474h1v1h-1zM277 474h1v1h-1zM293 474h1v1h-1zM310 474h1v1h-1zM327 474h1v1h-1zM343 474h1v1h-1zM360 474h1v1h-1zM377 474h1v1h-1zM393 474h1v1h-1zM410 474h1v1h-1zM427 474h1v1h-1zM443 474h1v1h-1zM460 474h1v1h-1zM477 474h1v1h-1zM493 474h1v1h-1zM510 474h1v1h-1zM527 474h1v1h-1zM543 474h1v1h-1zM560 474h1v1h-1zM577 474h1v1h-1zM593 474h1v1h-1zM610 474h1v1h-1zM627 474h1v1h-1zM643 474h1v1h-1zM660 474h1v1h-1zM677 474h1v1h-1zM693 474h1v1h-1zM710 474h1v1h-1zM727 474h1v1h-1zM743 474h1v1h-1zM760 474h1v1h-1zM777 474h1v1h-1zM793 474h1v1h-1zM810 474h1v1h-1zM827 474h1v1h-1zM843 474h1v1h-1zM860 474h1v1h-1zM877 474h1v1h-1zM893 474h1v1h-1zM10 490h1v1h-1zM27 490h1v1h-1zM43 490h1v1h-1zM60 490h1v1h-1zM77 490h1v1h-1zM93 490h1v1h-1zM110 490h1v1h-1zM127 490h1v1h-1zM143 490h1v1h-1zM160 490h1v1h-1zM177 490h1v1h-1zM193 490h1v1h-1zM210 490h1v1h-1zM227 490h1v1h-1zM243 490h1v1h-1zM260 490h1v1h-1zM277 490h1v1h-1zM293 490h1v1h-1zM310 490h1v1h-1zM327 490h1v1h-1zM343 490h1v1h-1zM360 490h1v1h-1zM377 490h1v1h-1zM393 490h1v1h-1zM410 490h1v1h-1zM427 490h1v1h-1zM443 490h1v1h-1zM460 490h1v1h-1zM477 490h1v1h-1zM493 490h1v1h-1zM510 490h1v1h-1zM527 490h1v1h-1zM543 490h1v1h-1zM560 490h1v1h-1zM577 490h1v1h-1zM593 490h1v1h-1zM610 490h1v1h-1zM627 490h1v1h-1zM643 490h1v1h-1zM660 490h1v1h-1zM677 490h1v1h-1zM693 490h1v1h-1zM710 490h1v1h-1zM727 490h1v1h-1zM743 490h1v1h-1zM760 490h1v1h-1zM777 490h1v1h-1zM793 490h1v1h-1zM810 490h1v1h-1zM827 490h1v1h-1zM843 490h1v1h-1zM860 490h1v1h-1zM877 490h1v1h-1zM893 490h1v1h-1zM10 507h1v1h-1zM27 507h1v1h-1zM43 507h1v1h-1zM60 507h1v1h-1zM77 507h1v1h-1zM93 507h1v1h-1zM110 507h1v1h-1zM127 507h1v1h-1zM143 507h1v1h-1zM160 507h1v1h-1zM177 507h1v1h-1zM193 507h1v1h-1zM210 507h1v1h-1zM227 507h1v1h-1zM243 507h1v1h-1zM260 507h1v1h-1zM277 507h1v1h-1zM293 507h1v1h-1zM310 507h1v1h-1zM327 507h1v1h-1zM343 507h1v1h-1zM360 507h1v1h-1zM377 507h1v1h-1zM393 507h1v1h-1zM410 507h1v1h-1zM427 507h1v1h-1zM443 507h1v1h-1zM460 507h1v1h-1zM477 507h1v1h-1zM493 507h1v1h-1zM510 507h1v1h-1zM527 507h1v1h-1zM543 507h1v1h-1zM560 507h1v1h-1zM577 507h1v1h-1zM593 507h1v1h-1zM610 507h1v1h-1zM627 507h1v1h-1zM643 507h1v1h-1zM660 507h1v1h-1zM677 507h1v1h-1zM693 507h1v1h-1zM710 507h1v1h-1zM727 507h1v1h-1zM743 507h1v1h-1zM760 507h1v1h-1zM777 507h1v1h-1zM793 507h1v1h-1zM810 507h1v1h-1zM827 507h1v1h-1zM843 507h1v1h-1zM860 507h1v1h-1zM877 507h1v1h-1zM893 507h1v1h-1zM10 524h1v1h-1zM27 524h1v1h-1zM43 524h1v1h-1zM60 524h1v1h-1zM77 524h1v1h-1zM93 524h1v1h-1zM110 524h1v1h-1zM127 524h1v1h-1zM143 524h1v1h-1zM160 524h1v1h-1zM177 524h1v1h-1zM193 524h1v1h-1zM210 524h1v1h-1zM227 524h1v1h-1zM243 524h1v1h-1zM260 524h1v1h-1zM277 524h1v1h-1zM293 524h1v1h-1zM310 524h1v1h-1zM327 524h1v1h-1zM343 524h1v1h-1zM360 524h1v1h-1zM377 524h1v1h-1zM393 524h1v1h-1zM410 524h1v1h-1zM427 524h1v1h-1zM443 524h1v1h-1zM460 524h1v1h-1zM477 524h1v1h-1zM493 524h1v1h-1zM510 524h1v1h-1zM527 524h1v1h-1zM543 524h1v1h-1zM560 524h1v1h-1zM577 524h1v1h-1zM593 524h1v1h-1zM610 524h1v1h-1zM627 524h1v1h-1zM643 524h1v1h-1zM660 524h1v1h-1zM677 524h1v1h-1zM693 524h1v1h-1zM710 524h1v1h-1zM727 524h1v1h-1zM743 524h1v1h-1zM760 524h1v1h-1zM777 524h1v1h-1zM793 524h1v1h-1zM810 524h1v1h-1zM827 524h1v1h-1zM843 524h1v1h-1zM860 524h1v1h-1zM877 524h1v1h-1zM893 524h1v1h-1zM10 540h1v1h-1zM27 540h1v1h-1zM43 540h1v1h-1zM60 540h1v1h-1zM77 540h1v1h-1zM93 540h1v1h-1zM110 540h1v1h-1zM127 540h1v1h-1zM143 540h1v1h-1zM160 540h1v1h-1zM177 540h1v1h-1zM193 540h1v1h-1zM210 540h1v1h-1zM227 540h1v1h-1zM243 540h1v1h-1zM260 540h1v1h-1zM277 540h1v1h-1zM293 540h1v1h-1zM310 540h1v1h-1zM327 540h1v1h-1zM343 540h1v1h-1zM360 540h1v1h-1zM377 540h1v1h-1zM393 540h1v1h-1zM410 540h1v1h-1zM427 540h1v1h-1zM443 540h1v1h-1zM460 540h1v1h-1zM477 540h1v1h-1zM493 540h1v1h-1zM510 540h1v1h-1zM527 540h1v1h-1zM543 540h1v1h-1zM560 540h1v1h-1zM577 540h1v1h-1zM593 540h1v1h-1zM610 540h1v1h-1zM627 540h1v1h-1zM643 540h1v1h-1zM660 540h1v1h-1zM677 540h1v1h-1zM693 540h1v1h-1zM710 540h1v1h-1zM727 540h1v1h-1zM743 540h1v1h-1zM760 540h1v1h-1zM777 540h1v1h-1zM793 540h1v1h-1zM810 540h1v1h-1zM827 540h1v1h-1zM843 540h1v1h-1zM860 540h1v1h-1zM877 540h1v1h-1zM893 540h1v1h-1zM10 557h1v1h-1zM27 557h1v1h-1zM43 557h1v1h-1zM60 557h1v1h-1zM77 557h1v1h-1zM93 557h1v1h-1zM110 557h1v1h-1zM127 557h1v1h-1zM143 557h1v1h-1zM160 557h1v1h-1zM177 557h1v1h-1zM193 557h1v1h-1zM210 557h1v1h-1zM227 557h1v1h-1zM243 557h1v1h-1zM260 557h1v1h-1zM277 557h1v1h-1zM293 557h1v1h-1zM310 557h1v1h-1zM327 557h1v1h-1zM343 557h1v1h-1zM360 557h1v1h-1zM377 557h1v1h-1zM393 557h1v1h-1zM410 557h1v1h-1zM427 557h1v1h-1zM443 557h1v1h-1zM460 557h1v1h-1zM477 557h1v1h-1zM493 557h1v1h-1zM510 557h1v1h-1zM527 557h1v1h-1zM543 557h1v1h-1zM560 557h1v1h-1zM577 557h1v1h-1zM593 557h1v1h-1zM610 557h1v1h-1zM627 557h1v1h-1zM643 557h1v1h-1zM660 557h1v1h-1zM677 557h1v1h-1zM693 557h1v1h-1zM710 557h1v1h-1zM727 557h1v1h-1zM743 557h1v1h-1zM760 557h1v1h-1zM777 557h1v1h-1zM793 557h1v1h-1zM810 557h1v1h-1zM827 557h1v1h-1zM843 557h1v1h-1zM860 557h1v1h-1zM877 557h1v1h-1zM893 557h1v1h-1z"/><rect x="42" y="106" width="202" height="2" fill="#840000"/><rect x="42" y="239" width="202" height="2" fill="#840000"/><rect x="42" y="106" width="2" height="135" fill="#840000"/><rect x="242" y="106" width="2" height="135" fill="#840000"/><rect x="92" y="139" width="22" height="2" fill="#840000"/><rect x="173" y="139" width="21" height="2" fill="#840000"/><rect x="92" y="173" width="22" height="2" fill="#840000"/><rect x="173" y="173" width="21" height="2" fill="#840000"/><rect x="92" y="206" width="22" height="2" fill="#840000"/><rect x="173" y="206" width="21" height="2" fill="#840000"/><polygon shape-rendering="crispEdges" fill="none" stroke="#840000" stroke-width="2" points="117.30,135.00 122.70,135.00 126.00,138.03 126.00,142.97 122.70,146.00 117.30,146.00 114.00,142.97 114.00,138.03"/><polygon shape-rendering="crispEdges" fill="none" stroke="#840000" stroke-width="2" points="164.30,135.00 169.70,135.00 173.00,138.03 173.00,142.97 169.70,146.00 164.30,146.00 161.00,142.97 161.00,138.03"/><polygon shape-rendering="crispEdges" fill="none" stroke="#840000" stroke-width="2" points="117.30,169.00 122.70,169.00 126.00,172.03 126.00,176.97 122.70,180.00 117.30,180.00 114.00,176.97 114.00,172.03"/><polygon shape-rendering="crispEdges" fill="none" stroke="#840000" stroke-width="2" points="164.30,169.00 169.70,169.00 173.00,172.03 173.00,176.97 169.70,180.00 164.30,180.00 161.00,176.97 161.00,172.03"/><polygon shape-rendering="crispEdges" fill="none" stroke="#840000" stroke-width="2" points="117.30,202.00 122.70,202.00 126.00,205.03 126.00,209.97 122.70,213.00 117.30,213.00 114.00,209.97 114.00,205.03"/><polygon shape-rendering="crispEdges" fill="none" stroke="#840000" stroke-width="2" points="164.30,202.00 169.70,202.00 173.00,205.03 173.00,209.97 169.70,213.00 164.30,213.00 161.00,209.97 161.00,205.03"/><rect x="659" y="-1" width="2" height="19" fill="#840000"/><rect x="659" y="29" width="2" height="29" fill="#840000"/><rect x="659" y="73" width="2" height="27" fill="#840000"/><rect x="639" y="15" width="43" height="4" fill="#840000"/><rect x="639" y="28" width="43" height="4" fill="#840000"/><rect x="639" y="98" width="43" height="4" fill="#840000"/><rect x="442" y="473" width="2" height="18" fill="#840000"/><rect x="427" y="489" width="33" height="2" fill="#840000"/><rect x="435" y="498" width="18" height="2" fill="#840000"/><rect x="442" y="506" width="4" height="2" fill="#840000"/><rect x="726" y="506" width="2" height="57" fill="#840000"/><rect x="792" y="506" width="2" height="57" fill="#840000"/><rect x="726" y="539" width="16" height="2" fill="#840000"/><rect x="779" y="539" width="15" height="2" fill="#840000"/><circle cx="727" cy="540.5" r="3.6" fill="#840000"/><circle cx="793" cy="540.5" r="3.6" fill="#840000"/><rect x="741" y="522" width="5" height="38" rx="2.5" fill="#840000"/><rect x="775" y="522" width="5" height="38" rx="2.5" fill="#840000"/><path fill="none" stroke="#840000" stroke-width="4" stroke-linejoin="round" d="M752 570 V516 Q752 515 753 515 H767 Q768 515 768 516 V570"/><path fill="none" stroke="#840000" stroke-width="2" stroke-linecap="round" stroke-linejoin="round" d="M707 515 L722 515 M722 511 L722 520 M707 516 L710 520"/><path fill="none" stroke="#840000" stroke-width="2" stroke-linecap="round" stroke-linejoin="round" d="M772 521 L772 511 L779 516 L781 512 L784 510.5 L787 511 L789 514 L789 519 L788 521"/><path shape-rendering="crispEdges" fill="none" stroke="#840000" stroke-width="2" stroke-linejoin="miter" d="M785 426 L634.5 426 L627 440 L634.5 455 L785 455 Z"/><path shape-rendering="crispEdges" fill="none" stroke="#840000" stroke-width="2" stroke-linejoin="miter" d="M920 459 L885.5 459 L877.5 474 L885.5 488 L920 488"/><path shape-rendering="crispEdges" fill="none" stroke="#008484" stroke-width="2" stroke-linecap="round" stroke-linejoin="round" d="M147.00,63.00 L147.00,49.00 L152.00,59.08 L157.00,49.00 L157.00,63.00 M164.00,53.20 L165.20,52.08 L168.00,49.00 L168.00,63.00 M164.00,63.00 L172.00,63.00"/><path shape-rendering="crispEdges" fill="none" stroke="#008484" stroke-width="2" stroke-linecap="round" stroke-linejoin="round" d="M99.00,91.00 L104.20,77.00 L109.40,91.00 M100.56,86.80 L107.84,86.80 M112.00,77.00 L117.00,91.00 L122.00,77.00 M127.00,91.00 L127.00,77.00 L132.60,77.00 L134.04,78.12 L135.00,79.80 L135.00,81.62 L134.04,83.30 L132.60,84.28 L127.00,84.28 M130.60,84.28 L135.00,91.00 M142.00,77.00 L142.00,91.00 M157.00,78.40 L154.57,77.00 L152.05,77.00 L149.80,78.12 L148.00,79.52 L148.00,82.88 L149.80,84.00 L157.00,85.40 L157.00,91.00 L148.90,91.00 L148.00,90.16 M163.00,91.00 L163.00,77.00 L169.30,77.00 L170.92,78.12 L172.00,80.08 L172.00,82.60 L170.92,84.28 L169.30,85.12 L163.00,85.12 M186.30,78.40 L183.79,77.00 L181.19,77.00 L178.86,78.12 L177.00,79.52 L177.00,82.88 L178.86,84.00 L186.30,85.40 L186.30,91.00 L177.93,91.00 L177.00,90.16 M192.00,91.00 L192.00,77.00 L197.00,87.08 L202.00,77.00 L202.00,91.00 M210.00,91.00 L210.00,77.00 L214.00,77.00 L216.40,78.40 L217.60,80.50 L218.00,82.60 L218.00,85.40 L217.60,87.50 L216.40,89.60 L214.00,91.00 L210.00,91.00"/><path shape-rendering="crispEdges" fill="none" stroke="#840000" stroke-width="2" stroke-linecap="round" stroke-linejoin="round" d="M65.00,132.00 L65.00,119.00 L69.00,128.36 L73.00,119.00 L73.00,132.00 M80.00,119.00 L80.00,132.00 M93.00,120.30 L91.11,119.00 L89.15,119.00 L87.40,120.04 L86.00,121.34 L86.00,124.46 L87.40,125.50 L93.00,126.80 L93.00,132.00 L86.70,132.00 L86.00,131.22 M101.15,119.00 L103.85,119.00 L106.10,120.56 L107.00,122.90 L107.00,128.10 L106.10,130.44 L103.85,132.00 L101.15,132.00 L98.90,130.44 L98.00,128.10 L98.00,122.90 L98.90,120.56 L101.15,119.00"/><path shape-rendering="crispEdges" fill="none" stroke="#840000" stroke-width="2" stroke-linecap="round" stroke-linejoin="round" d="M69.00,153.30 L67.11,152.00 L65.15,152.00 L63.40,153.04 L62.00,154.34 L62.00,157.46 L63.40,158.50 L69.00,159.80 L69.00,165.00 L62.70,165.00 L62.00,164.22 M83.00,153.30 L79.40,152.00 L76.70,152.65 L74.45,155.25 L74.00,157.20 L74.00,160.84 L74.72,163.05 L76.70,165.00 L81.65,165.00 L83.00,163.70 M88.00,152.00 L88.00,165.00 M96.00,152.00 L88.00,160.45 M90.80,157.46 L96.00,165.00"/><path shape-rendering="crispEdges" fill="none" stroke="#840000" stroke-width="2" stroke-linecap="round" stroke-linejoin="round" d="M64.00,198.00 L64.00,185.00 L69.60,185.00 L71.04,186.04 L72.00,187.60 L72.00,189.29 L71.04,190.85 L69.60,191.76 L64.00,191.76 M67.60,191.76 L72.00,198.00 M84.00,186.30 L82.11,185.00 L80.15,185.00 L78.40,186.04 L77.00,187.34 L77.00,190.46 L78.40,191.50 L84.00,192.80 L84.00,198.00 L77.70,198.00 L77.00,197.22 M89.00,185.00 L96.00,185.00 M92.50,185.00 L92.50,198.00"/><path shape-rendering="crispEdges" fill="none" stroke="#840000" stroke-width="2" stroke-linecap="round" stroke-linejoin="round" d="M228.00,119.00 L232.50,132.00 L237.00,119.00 M249.00,120.30 L245.40,119.00 L242.70,119.65 L240.45,122.25 L240.00,124.20 L240.00,127.84 L240.72,130.05 L242.70,132.00 L247.65,132.00 L249.00,130.70 M262.00,120.30 L258.80,119.00 L256.40,119.65 L254.40,122.25 L254.00,124.20 L254.00,127.84 L254.64,130.05 L256.40,132.00 L260.80,132.00 L262.00,130.70"/><path shape-rendering="crispEdges" fill="none" stroke="#840000" stroke-width="2" stroke-linecap="round" stroke-linejoin="round" d="M231.00,165.00 L231.00,153.00 L235.50,161.64 L240.00,153.00 L240.00,165.00 M249.15,153.00 L251.85,153.00 L254.10,154.44 L255.00,156.60 L255.00,161.40 L254.10,163.56 L251.85,165.00 L249.15,165.00 L246.90,163.56 L246.00,161.40 L246.00,156.60 L246.90,154.44 L249.15,153.00 M267.40,154.20 L265.54,153.00 L263.61,153.00 L261.88,153.96 L260.50,155.16 L260.50,158.04 L261.88,159.00 L267.40,160.20 L267.40,165.00 L261.19,165.00 L260.50,164.28 M273.00,153.00 L273.00,165.00"/><path shape-rendering="crispEdges" fill="none" stroke="#840000" stroke-width="2" stroke-linecap="round" stroke-linejoin="round" d="M236.00,186.56 L233.20,185.00 L230.80,185.65 L228.40,188.25 L228.00,190.20 L228.00,194.36 L228.64,196.44 L230.40,198.00 L236.00,198.00 L236.00,192.15 L232.80,192.15 M242.00,198.00 L242.00,185.00 L249.00,198.00 L249.00,185.00 M256.00,198.00 L256.00,185.00 L259.50,185.00 L261.60,186.30 L262.65,188.25 L263.00,190.20 L263.00,192.80 L262.65,194.75 L261.60,196.70 L259.50,198.00 L256.00,198.00"/><path shape-rendering="crispEdges" fill="none" stroke="#008484" stroke-width="2" stroke-linecap="round" stroke-linejoin="round" d="M410.60,524.92 L406.89,523.00 L403.71,523.80 L400.53,527.00 L400.00,529.40 L400.00,534.52 L400.85,537.08 L403.18,539.00 L410.60,539.00 L410.60,531.80 L406.36,531.80 M417.00,539.00 L417.00,523.00 L427.00,539.00 L427.00,523.00 M434.60,539.00 L434.60,523.00 L439.40,523.00 L442.28,524.60 L443.72,527.00 L444.20,529.40 L444.20,532.60 L443.72,535.00 L442.28,537.40 L439.40,539.00 L434.60,539.00 M451.00,539.00 L451.00,523.00 L458.21,523.00 L460.06,524.28 L461.30,526.20 L461.30,528.28 L460.06,530.20 L458.21,531.32 L451.00,531.32 M455.63,531.32 L461.30,539.00 M477.30,523.00 L468.30,523.00 L468.30,539.00 L477.30,539.00 M468.30,530.68 L473.88,530.68 M491.10,523.00 L483.70,523.00 L483.70,539.00 M483.70,530.68 L489.25,530.68"/><path shape-rendering="crispEdges" fill="none" stroke="#008484" stroke-width="2" stroke-linecap="round" stroke-linejoin="round" d="M705.00,0.70 L701.00,-1.00 L698.00,-0.15 L695.50,3.25 L695.00,5.80 L695.00,10.56 L695.80,13.45 L698.00,16.00 L703.50,16.00 L705.00,14.30 M719.50,-1.00 L716.00,-1.00 L713.00,1.04 L711.50,4.10 L711.00,7.50 L711.00,12.60 L712.50,15.15 L714.50,16.00 L718.00,16.00 L720.00,14.64 L721.00,12.26 L721.00,10.05 L720.00,7.84 L718.00,6.65 L714.50,6.65 L712.50,7.84 L711.00,10.05"/><path shape-rendering="crispEdges" fill="none" stroke="#008484" stroke-width="2" stroke-linecap="round" stroke-linejoin="round" d="M695.00,35.10 L696.35,33.74 L699.50,30.00 L699.50,47.00 M695.00,47.00 L704.00,47.00 M715.00,30.00 L718.00,32.04 L720.00,35.95 L720.00,41.05 L718.00,44.96 L715.00,47.00 L712.00,44.96 L710.00,41.05 L710.00,35.95 L712.00,32.04 L715.00,30.00 M727.00,36.46 L727.00,44.96 L728.40,47.00 L734.00,47.00 M734.00,36.46 L734.00,47.00 M750.00,30.00 L742.00,30.00 L742.00,47.00 M742.00,38.16 L748.00,38.16"/><path shape-rendering="crispEdges" fill="none" stroke="#008484" stroke-width="2" stroke-linecap="round" stroke-linejoin="round" d="M705.00,84.70 L701.00,83.00 L698.00,83.85 L695.50,87.25 L695.00,89.80 L695.00,94.56 L695.80,97.45 L698.00,100.00 L703.50,100.00 L705.00,98.30 M721.00,92.35 L714.00,92.35 L712.00,90.99 L711.00,88.44 L711.50,85.55 L714.00,83.00 L717.00,83.00 L720.00,84.70 L721.00,87.25 L721.00,93.20 L720.00,97.45 L717.00,100.00 L713.00,100.00"/><path shape-rendering="crispEdges" fill="none" stroke="#840000" stroke-width="2" stroke-linecap="round" stroke-linejoin="round" d="M641.00,432.00 L651.00,448.00 M651.00,432.00 L641.00,448.00 M655.00,432.00 L665.00,432.00 M660.00,432.00 L660.00,448.00 M668.00,448.00 L673.70,432.00 L679.40,448.00 M669.71,443.20 L677.69,443.20 M685.00,432.00 L685.00,448.00 L693.00,448.00 M697.30,436.80 L698.71,435.52 L702.00,432.00 L702.00,448.00 M697.30,448.00 L706.70,448.00 M715.00,440.00 L727.00,440.00 M735.00,448.00 L735.00,432.00 L741.30,432.00 L742.92,433.28 L744.00,435.52 L744.00,438.40 L742.92,440.32 L741.30,441.28 L735.00,441.28 M750.60,432.00 L750.60,448.00 L757.88,448.00 L759.96,446.40 L761.00,444.32 L761.00,442.40 L759.96,440.80 L757.88,439.68 L750.60,439.68 M750.60,432.00 L757.36,432.00 L759.44,433.28 L760.27,434.88 L760.27,436.80 L759.44,438.40 L757.36,439.68 M772.00,432.00 L775.00,433.92 L777.00,437.60 L777.00,442.40 L775.00,446.08 L772.00,448.00 L769.00,446.08 L767.00,442.40 L767.00,437.60 L769.00,433.92 L772.00,432.00"/><path shape-rendering="crispEdges" fill="none" stroke="#840000" stroke-width="2" stroke-linecap="round" stroke-linejoin="round" d="M891.00,465.00 L901.00,481.50 M901.00,465.00 L891.00,481.50 M906.00,465.00 L916.00,465.00 M911.00,465.00 L911.00,481.50"/><path shape-rendering="crispEdges" fill="none" stroke="#008484" stroke-width="2" stroke-linecap="round" stroke-linejoin="round" d="M826.00,534.00 L831.00,543.12 L836.00,534.00 M831.00,543.12 L831.00,550.00 M842.00,538.80 L843.20,537.52 L846.00,534.00 L846.00,550.00 M842.00,550.00 L850.00,550.00"/><rect x="192" y="-1" width="2" height="142" fill="#008400"/><rect x="-1" y="139" width="129" height="2" fill="#008400"/><rect x="-1" y="156" width="95" height="2" fill="#008400"/><rect x="92" y="156" width="2" height="19" fill="#008400"/><rect x="92" y="206" width="2" height="219" fill="#008400"/><rect x="-1" y="423" width="95" height="2" fill="#008400"/><rect x="193" y="173" width="185" height="2" fill="#008400"/><rect x="376" y="173" width="2" height="168" fill="#008400"/><rect x="-1" y="339" width="379" height="2" fill="#008400"/><rect x="193" y="206" width="251" height="2" fill="#008400"/><rect x="442" y="206" width="2" height="269" fill="#008400"/><rect x="659" y="56" width="2" height="19" fill="#008400"/><rect x="626" y="439" width="2" height="69" fill="#008400"/><rect x="626" y="506" width="102" height="2" fill="#008400"/><rect x="792" y="473" width="2" height="35" fill="#008400"/><rect x="792" y="473" width="86" height="2" fill="#008400"/><polygon fill="#008400" points="90.50,134.30 96.10,134.30 99.50,137.70 99.50,143.50 96.10,146.90 90.50,146.90 87.10,143.50 87.10,137.70"/><rect x="123.5" y="136.5" width="8" height="8" fill="none" stroke="#008400" stroke-width="1"/><polygon shape-rendering="crispEdges" fill="#008400" points="443.00,474.00 459.80,476.10 451.40,480.30 470.30,490.80 461.90,492.90 459.80,501.30 449.30,482.40 445.10,490.80"/><rect x="460" y="478" width="1" height="7" fill="#000"/><rect x="460" y="485" width="1" height="12" fill="#ff7bff"/><rect x="460" y="497" width="1" height="5" fill="#000"/><rect x="448" y="490" width="5" height="1" fill="#7bffff"/><rect x="453" y="490" width="16" height="1" fill="#ff7bff"/><rect x="469" y="490" width="3" height="1" fill="#000"/><path fill="#fff" stroke="#1a1a24" stroke-width="1.2" stroke-linejoin="miter" d="M1.5 2.8 L1.5 18.3 L5.5 14.9 L8.3 20.5 L10.4 19.5 L8.3 14.3 L12.6 14.3 Z"/></svg>
<div id="shadow"></div>
<div id="dlg"></div>
<div id="title"></div>
<div id="ttext">Marker Info</div>
<svg id="close" width="12" height="12" viewBox="0 0 12 12"><path fill="#000" d="M1 1h1v1h-1zM10 1h1v1h-1zM2 2h1v1h-1zM9 2h1v1h-1zM3 3h1v1h-1zM8 3h1v1h-1zM4 4h1v1h-1zM7 4h1v1h-1zM5 5h1v1h-1zM6 5h1v1h-1zM6 6h1v1h-1zM5 6h1v1h-1zM7 7h1v1h-1zM4 7h1v1h-1zM8 8h1v1h-1zM3 8h1v1h-1zM9 9h1v1h-1zM2 9h1v1h-1zM10 10h1v1h-1zM1 10h1v1h-1z"/></svg>
<div id="body"></div>
<div id="panel"></div>
<div class="t" style="left:492px;top:152px">ErrType(3): <b style="letter-spacing:0.085px">Pin connected to some others pins but no pin to</b></div>
<div class="t" style="left:492px;top:168px"><b>drive it</b></div>
<div style="position:absolute;left:518px;top:193px;width:2px;height:1px;background:#000"></div><div style="position:absolute;left:517px;top:194px;width:4px;height:1px;background:#000"></div><div style="position:absolute;left:516px;top:195px;width:6px;height:1px;background:#000"></div><div style="position:absolute;left:516px;top:196px;width:6px;height:1px;background:#000"></div><div style="position:absolute;left:517px;top:197px;width:4px;height:1px;background:#000"></div><div style="position:absolute;left:518px;top:198px;width:2px;height:1px;background:#000"></div>
<div class="t" style="left:528px;top:187px;letter-spacing:0.04px">@ (132.08 mm,66.04 mm): Pin 1 (Power input) of</div>
<div class="t" style="left:528px;top:203px">component #PWR0103 is not driven (Net 8).</div>
<div style="position:absolute;left:882px;top:422px;width:2px;height:2px;background:#b0b0b0"></div><div style="position:absolute;left:882px;top:425px;width:2px;height:2px;background:#b0b0b0"></div><div style="position:absolute;left:876px;top:428px;width:2px;height:2px;background:#b0b0b0"></div><div style="position:absolute;left:879px;top:428px;width:2px;height:2px;background:#b0b0b0"></div><div style="position:absolute;left:882px;top:428px;width:2px;height:2px;background:#b0b0b0"></div>
<div id="ok"><span style="display:inline-block;transform:scaleX(0.9)">OK</span></div>
</body></html>
